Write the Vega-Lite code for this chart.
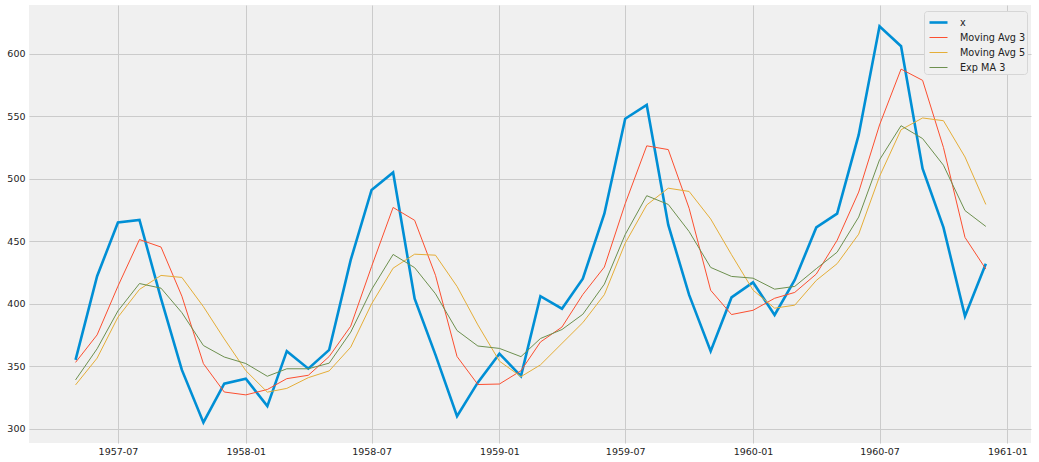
{
  "$schema": "https://vega.github.io/schema/vega-lite/v6.json",
  "width": 1002,
  "height": 438,
  "autosize": {"type": "none"},
  "padding": {"left": 29, "top": 5, "right": 8, "bottom": 19},
  "background": "#ffffff",
  "config": {
    "view": {"fill": "#f0f0f0", "stroke": null},
    "font": "DejaVu Sans",
    "axis": {
      "domain": false,
      "ticks": false,
      "gridColor": "#cbcbcb",
      "gridWidth": 1,
      "labelFont": "DejaVu Sans",
      "labelFontSize": 9.5,
      "labelColor": "#222222",
      "title": null
    }
  },
  "data": {
    "values": [
      {"date": "1957-05-01", "x": 355, "ma3": 353.0, "ma5": 335.0, "ema3": 339.0},
      {"date": "1957-06-01", "x": 422, "ma3": 375.0, "ma5": 356.4, "ema3": 363.9},
      {"date": "1957-07-01", "x": 465, "ma3": 414.0, "ma5": 389.2, "ema3": 394.2},
      {"date": "1957-08-01", "x": 467, "ma3": 451.3, "ma5": 411.4, "ema3": 416.1},
      {"date": "1957-09-01", "x": 404, "ma3": 445.3, "ma5": 422.6, "ema3": 412.4},
      {"date": "1957-10-01", "x": 347, "ma3": 406.0, "ma5": 421.0, "ema3": 392.8},
      {"date": "1957-11-01", "x": 305, "ma3": 352.0, "ma5": 397.6, "ema3": 366.5},
      {"date": "1957-12-01", "x": 336, "ma3": 329.3, "ma5": 371.8, "ema3": 357.3},
      {"date": "1958-01-01", "x": 340, "ma3": 327.0, "ma5": 346.4, "ema3": 352.1},
      {"date": "1958-02-01", "x": 318, "ma3": 331.3, "ma5": 329.2, "ema3": 341.9},
      {"date": "1958-03-01", "x": 362, "ma3": 340.0, "ma5": 332.2, "ema3": 347.9},
      {"date": "1958-04-01", "x": 348, "ma3": 342.7, "ma5": 340.8, "ema3": 347.9},
      {"date": "1958-05-01", "x": 363, "ma3": 357.7, "ma5": 346.2, "ema3": 352.4},
      {"date": "1958-06-01", "x": 435, "ma3": 382.0, "ma5": 365.2, "ema3": 377.2},
      {"date": "1958-07-01", "x": 491, "ma3": 429.7, "ma5": 399.8, "ema3": 411.3},
      {"date": "1958-08-01", "x": 505, "ma3": 477.0, "ma5": 428.4, "ema3": 439.4},
      {"date": "1958-09-01", "x": 404, "ma3": 466.7, "ma5": 439.6, "ema3": 428.8},
      {"date": "1958-10-01", "x": 359, "ma3": 422.7, "ma5": 438.8, "ema3": 407.9},
      {"date": "1958-11-01", "x": 310, "ma3": 357.7, "ma5": 413.8, "ema3": 378.5},
      {"date": "1958-12-01", "x": 337, "ma3": 335.3, "ma5": 383.0, "ema3": 366.1},
      {"date": "1959-01-01", "x": 360, "ma3": 335.7, "ma5": 354.0, "ema3": 364.2},
      {"date": "1959-02-01", "x": 342, "ma3": 346.3, "ma5": 341.6, "ema3": 357.6},
      {"date": "1959-03-01", "x": 406, "ma3": 369.3, "ma5": 351.0, "ema3": 372.1},
      {"date": "1959-04-01", "x": 396, "ma3": 381.3, "ma5": 368.2, "ema3": 379.3},
      {"date": "1959-05-01", "x": 420, "ma3": 407.3, "ma5": 384.8, "ema3": 391.5},
      {"date": "1959-06-01", "x": 472, "ma3": 429.3, "ma5": 407.2, "ema3": 415.6},
      {"date": "1959-07-01", "x": 548, "ma3": 480.0, "ma5": 448.4, "ema3": 455.3},
      {"date": "1959-08-01", "x": 559, "ma3": 526.3, "ma5": 479.0, "ema3": 486.4},
      {"date": "1959-09-01", "x": 463, "ma3": 523.3, "ma5": 492.4, "ema3": 479.4},
      {"date": "1959-10-01", "x": 407, "ma3": 476.3, "ma5": 489.8, "ema3": 457.7},
      {"date": "1959-11-01", "x": 362, "ma3": 410.7, "ma5": 467.8, "ema3": 429.0},
      {"date": "1959-12-01", "x": 405, "ma3": 391.3, "ma5": 439.2, "ema3": 421.8},
      {"date": "1960-01-01", "x": 417, "ma3": 394.7, "ma5": 410.8, "ema3": 420.4},
      {"date": "1960-02-01", "x": 391, "ma3": 404.3, "ma5": 396.4, "ema3": 411.6},
      {"date": "1960-03-01", "x": 419, "ma3": 409.0, "ma5": 398.8, "ema3": 413.8},
      {"date": "1960-04-01", "x": 461, "ma3": 423.7, "ma5": 418.6, "ema3": 428.0},
      {"date": "1960-05-01", "x": 472, "ma3": 450.7, "ma5": 432.0, "ema3": 441.2},
      {"date": "1960-06-01", "x": 535, "ma3": 489.3, "ma5": 455.6, "ema3": 469.3},
      {"date": "1960-07-01", "x": 622, "ma3": 543.0, "ma5": 501.8, "ema3": 515.1},
      {"date": "1960-08-01", "x": 606, "ma3": 587.7, "ma5": 539.2, "ema3": 542.4},
      {"date": "1960-09-01", "x": 508, "ma3": 578.7, "ma5": 548.6, "ema3": 532.1},
      {"date": "1960-10-01", "x": 461, "ma3": 525.0, "ma5": 546.4, "ema3": 510.8},
      {"date": "1960-11-01", "x": 390, "ma3": 453.0, "ma5": 517.4, "ema3": 474.5},
      {"date": "1960-12-01", "x": 432, "ma3": 427.7, "ma5": 479.4, "ema3": 461.8}
    ],
    "format": {"parse": {"date": "utc:'%Y-%m-%d'"}}
  },
  "transform": [
    {"fold": ["x", "ma3", "ma5", "ema3"], "as": ["series", "value"]}
  ],
  "mark": {"type": "line", "clip": true},
  "encoding": {
    "x": {
      "field": "date",
      "type": "temporal",
      "scale": {
        "type": "utc",
        "domain": [
          {"year": 1957, "month": 2, "date": 23, "utc": true},
          {"year": 1961, "month": 2, "date": 4, "utc": true}
        ]
      },
      "axis": {
        "values": [
          {"year": 1957, "month": 7, "date": 1, "utc": true},
          {"year": 1958, "month": 1, "date": 1, "utc": true},
          {"year": 1958, "month": 7, "date": 1, "utc": true},
          {"year": 1959, "month": 1, "date": 1, "utc": true},
          {"year": 1959, "month": 7, "date": 1, "utc": true},
          {"year": 1960, "month": 1, "date": 1, "utc": true},
          {"year": 1960, "month": 7, "date": 1, "utc": true},
          {"year": 1961, "month": 1, "date": 1, "utc": true}
        ],
        "labelExpr": "utcFormat(datum.value, '%Y-%m')",
        "labelPadding": 3,
        "labelOverlap": false,
        "labelFlush": false
      }
    },
    "y": {
      "field": "value",
      "type": "quantitative",
      "scale": {"domain": [288.5, 639], "nice": false, "zero": false},
      "axis": {"values": [300, 350, 400, 450, 500, 550, 600], "labelPadding": 4}
    },
    "color": {
      "field": "series",
      "type": "nominal",
      "scale": {
        "domain": ["x", "ma3", "ma5", "ema3"],
        "range": ["#008fd5", "#fc4f30", "#e5ae38", "#6d904f"]
      },
      "legend": {
        "title": null,
        "orient": "none",
        "legendX": 895,
        "legendY": 6,
        "labelExpr": "datum.label == 'x' ? 'x' : datum.label == 'ma3' ? 'Moving Avg 3' : datum.label == 'ma5' ? 'Moving Avg 5' : 'Exp MA 3'",
        "symbolType": "stroke",
        "symbolSize": 324,
        "symbolOffset": 3,
        "labelFontSize": 9.7,
        "labelFont": "DejaVu Sans",
        "labelColor": "#222222",
        "fillColor": "#f0f0f0",
        "strokeColor": "#d6d6d6",
        "cornerRadius": 3,
        "padding": 1,
        "rowPadding": 0,
        "labelOffset": 11
      }
    },
    "strokeWidth": {
      "field": "series",
      "type": "nominal",
      "scale": {"type": "ordinal", "domain": ["x", "ma3", "ma5", "ema3"], "range": [2.6, 1, 1, 1]},
      "legend": null
    }
  }
}
